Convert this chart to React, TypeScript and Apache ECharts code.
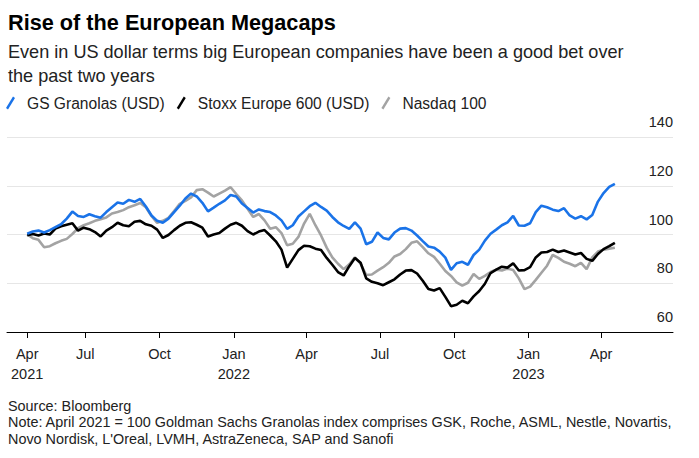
import React, { useEffect, useRef } from "react";
import * as echarts from "echarts";

// Weekly observations starting 20 Apr 2021 (index = 100 in April 2021)
const granolas = [
  100.3, 101.2, 101.6, 100.8, 101.8, 103.0, 104.2, 106.5, 109.4, 107.6,
  107.2, 108.3, 107.5, 106.9, 109.2, 111.2, 113.1, 112.6, 114.2, 113.4,
  114.6, 111.5, 107.8, 105.6, 104.8, 106.5, 109.2, 111.8, 114.8, 116.8,
  115.6, 113.0, 109.5, 111.0, 112.6, 114.0, 116.2, 115.6, 112.7, 110.9,
  109.0, 110.3, 109.6, 109.2, 107.8, 105.8, 102.3, 103.8, 107.4, 109.5,
  111.6, 113.0, 111.3, 109.8, 107.2, 105.0, 103.5, 102.3, 105.0, 102.4,
  96.0, 97.0, 100.8, 98.6, 98.0, 100.8, 102.4, 102.6, 101.6, 99.6,
  97.3, 95.1, 94.6, 93.0, 90.5, 85.5, 88.2, 88.8, 87.6, 91.6,
  93.8, 97.5, 100.3, 102.0, 103.8, 105.0, 107.6, 103.7, 103.6, 104.6,
  109.2, 111.8, 111.2, 110.2, 109.6, 110.8, 107.8, 106.5, 107.5, 106.2,
  108.0, 113.5, 117.0, 119.5, 120.8,
];

const stoxx = [
  99.7, 100.2, 99.6, 100.4, 100.0, 102.4, 103.4, 104.0, 104.6, 101.6,
  102.8, 102.2, 101.0, 99.2, 101.6, 103.0, 104.8, 103.8, 103.4, 105.2,
  105.6, 104.2, 103.6, 102.0, 98.6, 99.8, 101.8, 103.6, 104.8, 105.0,
  104.0, 102.8, 99.2, 100.0, 100.6, 102.4, 104.0, 104.8, 103.6, 101.4,
  100.0, 101.2, 101.8, 99.6, 97.2, 93.8, 86.4, 90.0, 93.6, 95.4,
  95.2, 94.2, 93.6, 90.4, 87.6, 84.6, 83.2, 87.0, 90.4, 88.4,
  82.0, 80.6, 80.0, 79.2, 80.4, 81.6, 83.6, 85.2, 85.4, 84.0,
  81.0, 77.6, 77.0, 78.0, 74.4, 70.6, 71.2, 72.8, 71.8, 74.6,
  76.8, 79.8, 84.2, 85.6, 86.8, 86.4, 88.2, 85.2, 85.4, 86.6,
  90.6, 92.6, 92.8, 93.8, 92.8, 93.4, 92.6, 91.8, 92.4, 90.0,
  89.2, 92.0, 94.0, 95.2, 96.6,
];

const nasdaq = [
  100.0, 98.5, 97.8, 94.8, 95.2, 96.4, 97.4, 98.2, 100.2, 102.6,
  103.8, 104.6, 105.6, 106.3, 107.0, 108.6, 109.2, 110.0, 111.2, 112.0,
  112.9, 111.2, 107.6, 104.8, 105.6, 106.8, 109.6, 112.6, 113.8, 115.2,
  118.2, 118.6, 117.2, 115.6, 116.8, 118.0, 119.4, 116.6, 114.0, 110.6,
  107.2, 108.4, 105.8, 102.4, 103.0, 100.6, 95.6, 96.2, 99.0, 104.5,
  108.5, 103.8, 99.6, 94.6, 90.6, 88.0, 85.8, 87.8, 90.6, 88.0,
  83.4, 83.6, 85.2, 86.6, 88.4, 91.0, 92.0, 94.0, 96.6, 97.2,
  94.8, 92.3, 90.8, 88.0, 85.0, 83.0, 80.4, 79.0, 80.2, 83.8,
  81.8, 83.0, 84.6, 85.6, 85.2, 86.0, 85.4, 82.0, 77.6, 78.6,
  81.4, 84.3, 87.2, 91.6, 90.4, 88.8, 88.0, 87.0, 88.4, 85.8,
  90.6, 93.0, 93.8, 94.2, 94.6,
];

const seriesNames = ["GS Granolas (USD)", "Stoxx Europe 600 (USD)", "Nasdaq 100"];
const seriesColors = ["#1a73e8", "#000000", "#a3a3a3"];

// tick dates [year, month, day] and their labels
const startDate: [number, number, number] = [2021, 4, 20];
const axisStart: [number, number, number] = [2021, 3, 26];
const axisEnd: [number, number, number] = [2023, 6, 29];
const tickDates: [number, number, number][] = [
  [2021, 4, 20], [2021, 7, 1], [2021, 10, 1], [2022, 1, 1], [2022, 4, 1],
  [2022, 7, 1], [2022, 10, 1], [2023, 1, 1], [2023, 4, 1],
];
const tickLabels = ["Apr\n2021", "Jul", "Oct", "Jan\n2022", "Apr", "Jul", "Oct", "Jan\n2023", "Apr"];

const yTicks = { min: 60, max: 140, interval: 20 };

const titleText = "Rise of the European Megacaps";
const subtitleText = "Even in US dollar terms big European companies have been a good bet over\nthe past two years";
const footerText =
  "Source: Bloomberg\nNote: April 2021 = 100 Goldman Sachs Granolas index comprises GSK, Roche, ASML, Nestle, Novartis,\nNovo Nordisk, L'Oreal, LVMH, AstraZeneca, SAP and Sanofi";

const FONT = "'Liberation Sans', Arial, sans-serif";

function dayOf(d: [number, number, number]) {
  const t = Date.UTC(d[0], d[1] - 1, d[2]);
  const s = Date.UTC(startDate[0], startDate[1] - 1, startDate[2]);
  return Math.round((t - s) / 86400000);
}

export default function App() {
  const ref = useRef<HTMLDivElement>(null);

  useEffect(() => {
    if (!ref.current) return;
    document.body.style.margin = "0";
    const chart = echarts.init(ref.current, undefined, { renderer: "svg" });

    const days = granolas.map((_, i) => 7 * i);
    const tickDays = tickDates.map(dayOf);
    const lists = [granolas, stoxx, nasdaq];

    const iconPath = "path://M7,0 L9,1.6 L2,13 L0,11.4 Z";

    const series = [2, 1, 0].map((k) => ({
      name: seriesNames[k],
      type: "line",
      data: days.map((d, i) => [d, lists[k][i]]),
      showSymbol: false,
      symbol: "none",
      lineStyle: { width: 2.6, color: seriesColors[k] },
      itemStyle: { color: seriesColors[k] },
      z: 3 + (2 - k),
    }));

    chart.setOption({
      animation: false,
      textStyle: { fontFamily: FONT },
      title: [
        {
          text: titleText,
          left: 8,
          top: 11,
          padding: 0,
          textStyle: { fontFamily: FONT, fontSize: 21.7, fontWeight: "bold", color: "#000" },
        },
        {
          text: subtitleText,
          left: 8,
          top: 40,
          padding: 0,
          textStyle: { fontFamily: FONT, fontSize: 18.1, fontWeight: "normal", color: "#222", lineHeight: 24 },
        },
        {
          text: footerText,
          left: 8,
          top: 398,
          padding: 0,
          textStyle: { fontFamily: FONT, fontSize: 14.4, fontWeight: "normal", color: "#222", lineHeight: 16.2 },
        },
      ],
      legend: {
        left: 6,
        top: 95,
        padding: 0,
        itemWidth: 9,
        itemHeight: 13,
        itemGap: 12,
        data: seriesNames.map((n, k) => ({ name: n, icon: iconPath, itemStyle: { color: seriesColors[k] } })),
        textStyle: { fontFamily: FONT, fontSize: 15.6, color: "#222", padding: [0, 0, 0, 7] },
        selectedMode: false,
      },
      grid: { left: 7, right: 26, top: 137, bottom: 126, containLabel: false, outerBoundsMode: "none" },
      xAxis: {
        type: "value",
        min: dayOf(axisStart),
        max: dayOf(axisEnd),
        axisLine: { show: true, lineStyle: { color: "#000", width: 1 } },
        axisTick: { show: true, length: 6, customValues: tickDays, lineStyle: { color: "#000" } },
        axisLabel: {
          customValues: tickDays,
          formatter: (v: number) => {
            const idx = tickDays.indexOf(Math.round(v));
            return idx >= 0 ? tickLabels[idx] : "";
          },
          fontFamily: FONT,
          fontSize: 14.5,
          color: "#222",
          lineHeight: 20,
          margin: 12,
        },
        splitLine: { show: false },
      },
      yAxis: {
        type: "value",
        min: yTicks.min,
        max: yTicks.max,
        interval: yTicks.interval,
        position: "right",
        axisLine: { show: false },
        axisTick: { show: false },
        splitLine: { show: true, lineStyle: { color: "#e6e6e6", width: 1 } },
        axisLabel: {
          inside: true,
          margin: 0,
          verticalAlign: "bottom",
          padding: [0, 0, 8, 0],
          fontFamily: FONT,
          fontSize: 14.5,
          lineHeight: 14,
          color: "#222",
        },
      },
      series,
    });

    return () => chart.dispose();
  }, []);

  return <div ref={ref} style={{ width: 699, height: 458, position: "absolute", left: 0, top: 0 }} />;
}
